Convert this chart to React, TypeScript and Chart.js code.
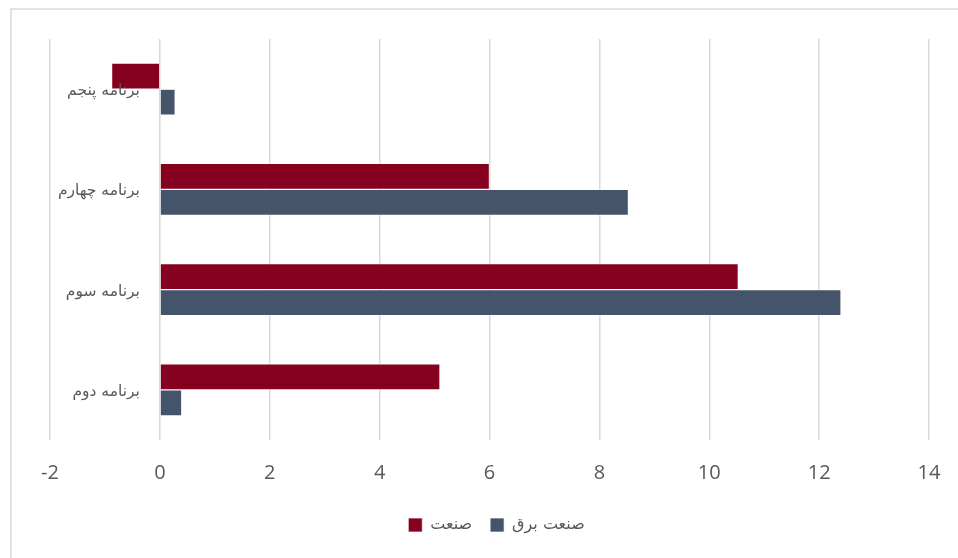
import React, { useEffect, useRef } from "react";
import { Chart, registerables } from "chart.js";

Chart.register(...registerables);

const categories = ["برنامه پنجم", "برنامه چهارم", "برنامه سوم", "برنامه دوم"];
const seriesNames = ["صنعت", "صنعت برق"];
const industry = [-0.88, 6.0, 10.53, 5.1];
const powerIndustry = [0.28, 8.53, 12.4, 0.4];
const xMin = -2;
const xMax = 14;
const xStep = 2;

const RED = "#860020";
const BLUE = "#44546A";
const TEXT = "#595959";
const GRID = "#d9d9d9";

const catLabelPlugin = {
  id: "catLabels",
  afterLayout(chart: any) {
    const lg = chart.legend;
    if (lg) {
      lg.left += 7;
      lg.right += 7;
    }
  },
  beforeDraw(chart: any) {
    const ctx = chart.ctx;
    ctx.save();
    ctx.strokeStyle = GRID;
    ctx.lineWidth = 1.5;
    ctx.strokeRect(11, 9, 1000, 700);
    ctx.restore();
  },
  afterDatasetsDraw(chart: any) {
    const ctx = chart.ctx;
    const xs = chart.scales.x;
    const ys = chart.scales.y;
    const x0 = xs.getPixelForValue(0);
    ctx.save();
    ctx.font = '15.5px "DejaVu Sans"';
    ctx.fillStyle = TEXT;
    ctx.textAlign = "right";
    ctx.textBaseline = "middle";
    ctx.direction = "rtl";
    categories.forEach((c, i) => {
      const y = ys.getPixelForValue(i);
      ctx.fillText(c, x0 - 20, y + 2);
    });
    ctx.restore();
  },
};

export default function App() {
  const ref = useRef<HTMLCanvasElement | null>(null);
  useEffect(() => {
    document.body.style.margin = "0";
    const chart = new Chart(ref.current as HTMLCanvasElement, {
      type: "bar",
      data: {
        labels: categories,
        datasets: [
          {
            label: seriesNames[0],
            data: industry,
            backgroundColor: RED,
            borderColor: "#ffffff",
            borderWidth: 0.7,
          },
          {
            label: seriesNames[1],
            data: powerIndustry,
            backgroundColor: BLUE,
            borderColor: "#ffffff",
            borderWidth: 0.7,
          },
        ],
      },
      options: {
        indexAxis: "y",
        animation: false,
        responsive: false,
        maintainAspectRatio: false,
        layout: { padding: { top: 39, left: 50, right: 29, bottom: 15 } },
        datasets: { bar: { categoryPercentage: 0.522, barPercentage: 1 } } as any,
        scales: {
          x: {
            min: xMin,
            max: xMax,
            ticks: {
              stepSize: xStep,
              color: TEXT,
              font: { family: '"Open Sans"', size: 20 },
              padding: 0,
            },
            grid: {
              color: GRID,
              lineWidth: 1.5,
              drawTicks: true,
              tickLength: 21,
              tickColor: "rgba(0,0,0,0)",
            },
            border: { display: false },
          },
          y: {
            display: false,
            grid: { display: false },
          },
        },
        plugins: {
          legend: {
            position: "bottom",
            title: {
              display: true,
              text: " ",
              font: { size: 10 },
              padding: { top: 0, bottom: 2 },
            },
            labels: {
              boxWidth: 14,
              boxHeight: 14,
              padding: 18,
              color: TEXT,
              font: { family: '"DejaVu Sans"', size: 16 },
            },
          },
          tooltip: { enabled: false },
        },
      },
      plugins: [catLabelPlugin],
    });
    return () => chart.destroy();
  }, []);
  return (
    <div style={{ position: "fixed", left: 0, top: 0, width: 958, height: 558, background: "#fff" }}>
      <canvas ref={ref} width={958} height={558} />
    </div>
  );
}
